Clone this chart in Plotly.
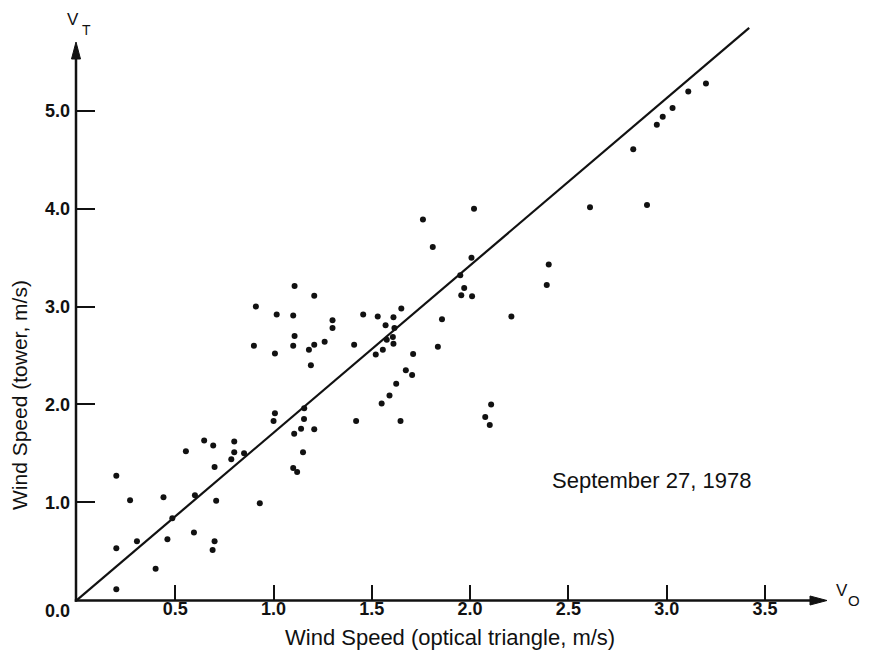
import plotly.graph_objects as go

# Wind speed measured by the optical triangle (V_O) and by the tower (V_T), m/s
v_optical = [
    0.20, 0.20, 0.20, 0.27, 0.305, 0.40, 0.44, 0.46, 0.485, 0.554,
    0.595, 0.60, 0.647, 0.693, 0.70, 0.708, 0.70, 0.69, 0.80, 0.80,
    0.785, 0.85, 0.93, 1.007, 1.00, 1.105, 1.10, 1.12, 1.14, 1.155,
    1.15, 1.156, 1.207, 1.107, 0.91, 1.016, 1.10, 1.107, 0.90, 1.007,
    1.10, 1.18, 1.19, 1.207, 1.30, 1.30, 1.26, 1.207, 1.41, 1.456,
    1.53, 1.57, 1.61, 1.65, 1.615, 1.607, 1.576, 1.61, 1.556, 1.52,
    1.71, 1.673, 1.705, 1.624, 1.59, 1.55, 1.646, 1.42, 1.836, 1.857,
    1.76, 1.81, 2.02, 2.007, 1.95, 1.97, 1.955, 2.01, 2.21, 2.40,
    2.39, 2.077, 2.107, 2.10, 3.20, 3.11, 3.03, 2.98, 2.95, 2.83,
    2.61, 2.90,
]
v_tower = [
    1.27, 0.53, 0.11, 1.02, 0.60, 0.32, 1.05, 0.62, 0.835, 1.52,
    0.69, 1.07, 1.63, 1.58, 1.36, 1.015, 0.60, 0.51, 1.62, 1.51,
    1.44, 1.50, 0.99, 1.91, 1.83, 1.70, 1.35, 1.31, 1.75, 1.85,
    1.51, 1.96, 1.745, 3.21, 3.00, 2.92, 2.91, 2.70, 2.60, 2.52,
    2.60, 2.56, 2.40, 3.11, 2.86, 2.78, 2.64, 2.61, 2.61, 2.92,
    2.90, 2.81, 2.89, 2.98, 2.78, 2.69, 2.66, 2.62, 2.56, 2.51,
    2.515, 2.35, 2.30, 2.21, 2.09, 2.01, 1.83, 1.83, 2.59, 2.87,
    3.89, 3.61, 4.00, 3.50, 3.32, 3.19, 3.115, 3.105, 2.90, 3.43,
    3.22, 1.87, 2.00, 1.79, 5.28, 5.20, 5.03, 4.94, 4.86, 4.61,
    4.015, 4.04,
]

# Regression line through the origin
fit_x = [0.0, 3.42]
fit_y = [0.0, 5.85]

x_ticks = [0.5, 1.0, 1.5, 2.0, 2.5, 3.0, 3.5]
x_tick_text = ["0.5", "1.0", "1.5", "2.0", "2.5", "3.0", "3.5"]
y_ticks = [1.0, 2.0, 3.0, 4.0, 5.0]
y_tick_text = ["1.0", "2.0", "3.0", "4.0", "5.0"]

date_label = "September 27, 1978"
x_title = "Wind Speed (optical triangle, m/s)"
y_title = "Wind Speed (tower, m/s)"

W, H = 871, 650
ML, MR, MT, MB = 77, 44, 20, 50
PW, PH = W - ML - MR, H - MT - MB
X_PER_PX = 1 / 196.55
Y_PER_PX = 1 / 97.8
X_MAX, Y_MAX = PW * X_PER_PX, PH * Y_PER_PX
INK = "#111111"
FONT = "Liberation Sans, Arial, Helvetica, sans-serif"


def fx(px):
    """Horizontal pixel position -> paper fraction."""
    return (px - ML) / PW


def fy(py):
    """Vertical pixel position -> paper fraction."""
    return (H - MB - py) / PH


fig = go.Figure()
fig.add_trace(go.Scatter(
    x=fit_x, y=fit_y, mode="lines",
    line=dict(color=INK, width=2.2), hoverinfo="skip", showlegend=False,
))
fig.add_trace(go.Scatter(
    x=v_optical, y=v_tower, mode="markers",
    marker=dict(color=INK, size=6), showlegend=False, cliponaxis=False,
))

# Axis lines with arrowheads
lw = 2.5
ox, oy = 76, 600.5          # axis corner
x_tip, y_tip = 827, 42      # arrow tips
ah_len, ah_half = 17, 4.5
axis_line = dict(color=INK, width=lw)
shapes = [
    dict(type="line", xref="paper", yref="paper",
         x0=fx(ox - lw / 2), y0=fy(oy), x1=fx(x_tip - 8), y1=fy(oy), line=axis_line),
    dict(type="line", xref="paper", yref="paper",
         x0=fx(ox), y0=fy(oy + lw / 2), x1=fx(ox), y1=fy(y_tip + 8), line=axis_line),
    dict(type="path", xref="paper", yref="paper",
         path=(f"M {fx(x_tip)},{fy(oy)} L {fx(x_tip - ah_len)},{fy(oy - ah_half)} "
               f"L {fx(x_tip - ah_len)},{fy(oy + ah_half)} Z"),
         fillcolor=INK, line=dict(color=INK, width=1)),
    dict(type="path", xref="paper", yref="paper",
         path=(f"M {fx(ox)},{fy(y_tip)} L {fx(ox - ah_half)},{fy(y_tip + ah_len)} "
               f"L {fx(ox + ah_half)},{fy(y_tip + ah_len)} Z"),
         fillcolor=INK, line=dict(color=INK, width=1)),
]


def label(text, px, py, size, bold=False, angle=0):
    return dict(
        text=text, x=fx(px), y=fy(py), xref="paper", yref="paper",
        showarrow=False, textangle=angle, xanchor="center", yanchor="middle",
        font=dict(family=FONT, size=size, color=INK,
                  weight="bold" if bold else "normal"),
    )


annotations = [
    label("V", 73, 19, 17),
    label("T", 86, 30, 14),
    label("V", 842, 590, 17),
    label("O", 854, 600, 15),
    label("0.0", 57, 611, 18, bold=True),
    label(date_label, 651, 480, 22),
    label(x_title, 450, 637, 22),
    label(y_title, 19, 395, 21, angle=-90),
]

fig.update_layout(
    width=W, height=H,
    margin=dict(l=ML, r=MR, t=MT, b=MB, pad=0),
    paper_bgcolor="white", plot_bgcolor="white",
    shapes=shapes, annotations=annotations,
    xaxis=dict(
        range=[0, X_MAX], showgrid=False, zeroline=False, showline=False,
        tickmode="array", tickvals=x_ticks, ticktext=x_tick_text,
        ticks="inside", ticklen=15, tickwidth=1.5, tickcolor=INK,
        tickfont=dict(family=FONT, size=18, color=INK, weight="bold"),
        ticklabelstandoff=-4,
    ),
    yaxis=dict(
        range=[0, Y_MAX], showgrid=False, zeroline=False, showline=False,
        tickmode="array", tickvals=y_ticks, ticktext=y_tick_text,
        ticks="inside", ticklen=18, tickwidth=1.5, tickcolor=INK,
        tickfont=dict(family=FONT, size=18, color=INK, weight="bold"),
        ticklabelstandoff=6,
    ),
)

fig.write_html("out.html")
